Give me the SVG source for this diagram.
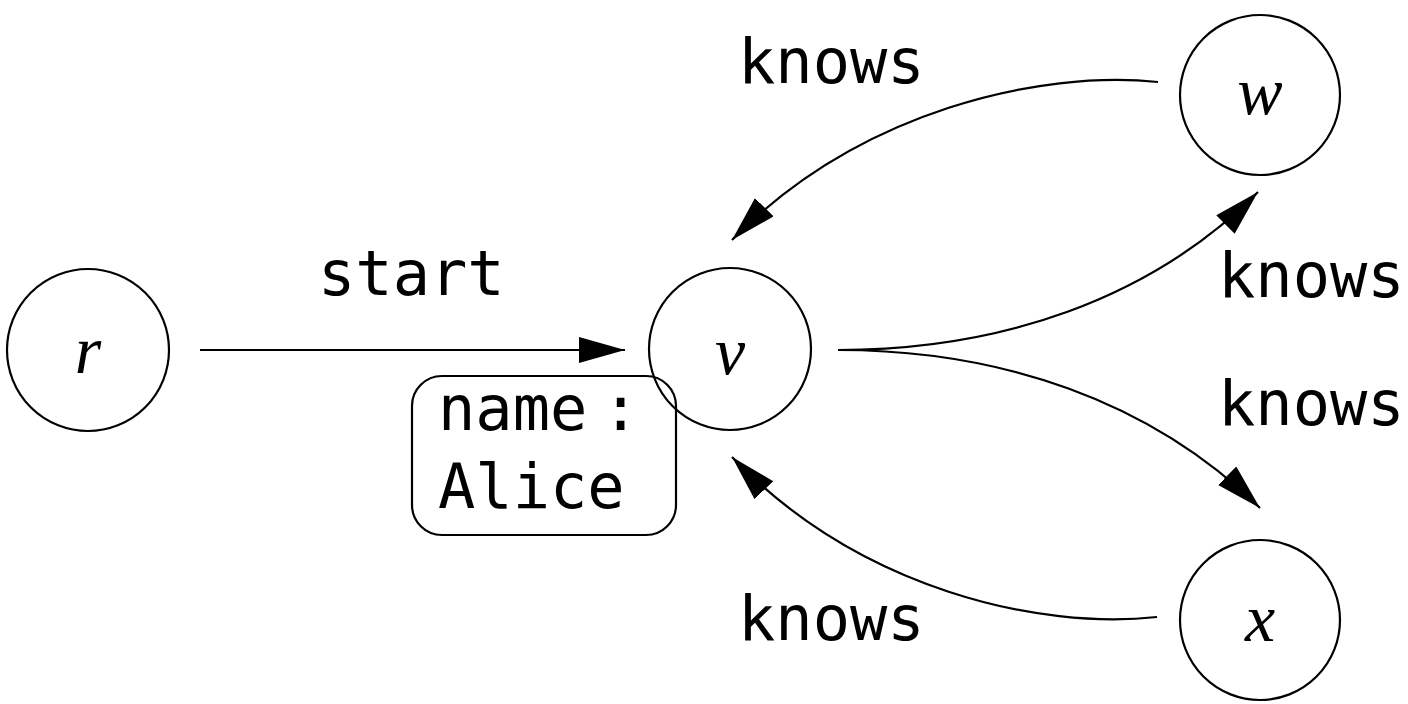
<svg xmlns="http://www.w3.org/2000/svg" width="1408" height="704" viewBox="0 0 1408 704">
<defs>
<style>
.node{fill:#fff;stroke:#000;stroke-width:2.2}
.var{font-family:"Liberation Serif","DejaVu Serif",serif;font-style:italic;font-size:68px;text-anchor:middle;fill:#000}
.lbl{font-family:"DejaVu Sans Mono","Liberation Mono",monospace;font-size:62px;fill:#000}
.edge{fill:none;stroke:#000;stroke-width:2.2;marker-end:url(#ah)}
</style>
<marker id="ah" markerUnits="userSpaceOnUse" markerWidth="50" markerHeight="30" refX="46" refY="13" orient="auto">
<path d="M0,0 L46,13 L0,26 z" fill="#000"/>
</marker>
</defs>
<rect width="1408" height="704" fill="#fff"/>
<g id="connectors">
<path class="edge" d="M200,350 L625,350"/>
<path class="edge" d="M1158,82 C1040,70 860,110 732,240"/>
<path class="edge" d="M838,350 C1000,350 1150,300 1258,192"/>
<path class="edge" d="M838,350 C1000,350 1150,400 1260,508"/>
<path class="edge" d="M1157,617 C1040,630 860,590 732,457"/>
</g>
<g id="edge-labels">
<text class="lbl" x="318" y="295">start</text>
<text class="lbl" x="738" y="83">knows</text>
<text class="lbl" x="1218" y="297">knows</text>
<text class="lbl" x="1218" y="425">knows</text>
<text class="lbl" x="738" y="640">knows</text>
</g>
<g id="node-r">
<circle class="node" cx="88" cy="350" r="81"/>
<text class="var" x="88" y="373">r</text>
</g>
<g id="node-v">
<circle class="node" cx="730" cy="349" r="81"/>
<text class="var" x="730" y="374">v</text>
</g>
<g id="node-w">
<circle class="node" cx="1260" cy="95" r="80"/>
<text class="var" x="1260" y="114">w</text>
</g>
<g id="node-x">
<circle class="node" cx="1260" cy="620" r="80"/>
<text class="var" x="1260" y="641">x</text>
</g>
<g id="node-name">
<rect x="412" y="376" width="264" height="159" rx="30" ry="30" fill="none" stroke="#000" stroke-width="2.2"/>
<text class="lbl" x="438" y="430">name<tspan font-size="20"> </tspan><tspan x="602">:</tspan></text>
<text class="lbl" x="438" y="508">Alice</text>
</g>
</svg>
